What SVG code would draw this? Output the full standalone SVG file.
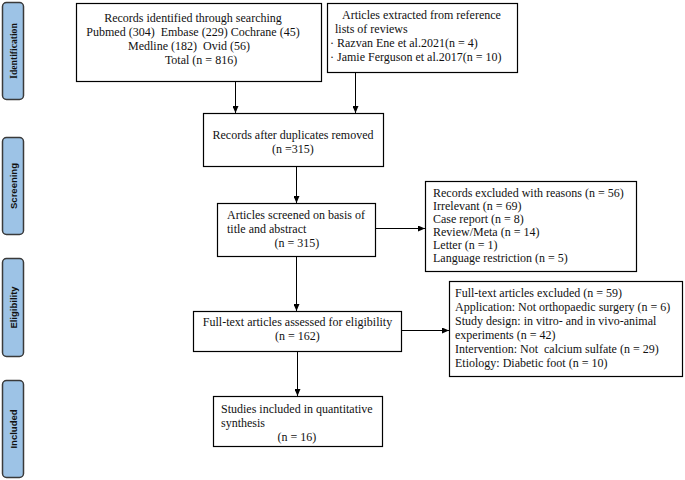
<svg xmlns="http://www.w3.org/2000/svg" width="685" height="480" viewBox="0 0 685 480">
<style>
.box{fill:#fff;stroke:#000;stroke-width:1.2}
.t{font-family:"Liberation Serif","Times New Roman",serif;font-size:12px;fill:#111}
.c{text-anchor:middle}
.stage{fill:#9dc3e6;stroke:#3a3a3a;stroke-width:1.5}
.sl{font-family:"Liberation Sans",Arial,sans-serif;font-size:9.5px;font-weight:bold;fill:#111;text-anchor:middle}
.sls{font-family:"Liberation Serif","Times New Roman",serif;font-size:9.6px;font-weight:bold;fill:#111;text-anchor:middle}
.ln{stroke:#000;stroke-width:1;fill:none;marker-end:url(#ah)}
</style>
<defs>
<marker id="ah" markerUnits="userSpaceOnUse" markerWidth="7" markerHeight="6" refX="7" refY="3" orient="auto">
<path d="M0,0 L7,3 L0,6 Z" fill="#000"/>
</marker>
</defs>

<g id="stage-identification">
<rect class="stage" x="2.5" y="2.5" width="21" height="97" rx="4"/>
<text class="sls" transform="translate(16.5,51) rotate(-90)">Identification</text>
</g>
<g id="stage-screening">
<rect class="stage" x="2.5" y="137.5" width="21" height="97" rx="4"/>
<text class="sl" transform="translate(16.5,186) rotate(-90)">Screening</text>
</g>
<g id="stage-eligibility">
<rect class="stage" x="2.5" y="258.5" width="21" height="98" rx="4"/>
<text class="sl" transform="translate(16.5,307.5) rotate(-90)">Eligibility</text>
</g>
<g id="stage-included">
<rect class="stage" x="2.5" y="380.5" width="21" height="97" rx="4"/>
<text class="sl" transform="translate(16.5,429) rotate(-90)">Included</text>
</g>

<g id="records-identified">
<rect class="box" x="76.5" y="3.5" width="245" height="78"/>
<text class="t c" x="193" y="22">Records identified through searching</text>
<text class="t c" x="193" y="36" xml:space="preserve">Pubmed (304)  Embase (229) Cochrane (45)</text>
<text class="t c" x="189" y="50" xml:space="preserve">Medline (182)  Ovid (56)</text>
<text class="t c" x="201" y="64">Total (n = 816)</text>
</g>

<g id="articles-extracted">
<rect class="box" x="327.5" y="3.5" width="190" height="69"/>
<text class="t" x="342" y="19">Articles extracted from reference</text>
<text class="t" x="335" y="33">lists of reviews</text>
<text class="t" x="330" y="47">· Razvan Ene et al.2021(n = 4)</text>
<text class="t" x="330" y="61">· Jamie Ferguson et al.2017(n = 10)</text>
</g>

<g id="duplicates-removed">
<rect class="box" x="203.5" y="113.5" width="180" height="53"/>
<text class="t c" x="293" y="139">Records after duplicates removed</text>
<text class="t c" x="293" y="153">(n =315)</text>
</g>

<g id="screened">
<rect class="box" x="217.5" y="203.5" width="158" height="53"/>
<text class="t" x="227" y="219">Articles screened on basis of</text>
<text class="t" x="227" y="233">title and abstract</text>
<text class="t c" x="297" y="247">(n = 315)</text>
</g>

<g id="excluded-reasons">
<rect class="box" x="425.5" y="181.5" width="211" height="90"/>
<text class="t" x="433" y="197">Records excluded with reasons (n = 56)</text>
<text class="t" x="433" y="210">Irrelevant (n = 69)</text>
<text class="t" x="433" y="223">Case report (n = 8)</text>
<text class="t" x="433" y="236">Review/Meta (n = 14)</text>
<text class="t" x="433" y="249">Letter (n = 1)</text>
<text class="t" x="433" y="262">Language restriction (n = 5)</text>
</g>

<g id="full-text-assessed">
<rect class="box" x="193.5" y="311.5" width="208" height="40"/>
<text class="t c" x="297.5" y="326">Full-text articles assessed for eligibility</text>
<text class="t c" x="297.5" y="340">(n = 162)</text>
</g>

<g id="full-text-excluded">
<rect class="box" x="449.5" y="281.5" width="233" height="95"/>
<text class="t" x="455" y="297">Full-text articles excluded (n = 59)</text>
<text class="t" x="455" y="311">Application: Not orthopaedic surgery (n = 6)</text>
<text class="t" x="455" y="325">Study design: in vitro- and in vivo-animal</text>
<text class="t" x="455" y="339">experiments (n = 42)</text>
<text class="t" x="455" y="353" xml:space="preserve">Intervention: Not  calcium sulfate (n = 29)</text>
<text class="t" x="455" y="367">Etiology: Diabetic foot (n = 10)</text>
</g>

<g id="included">
<rect class="box" x="213.5" y="396.5" width="169" height="50"/>
<text class="t" x="221" y="413">Studies included in quantitative</text>
<text class="t" x="221" y="427">synthesis</text>
<text class="t c" x="297" y="441">(n = 16)</text>
</g>

<g id="connectors">
<line class="ln" x1="235.5" y1="82" x2="235.5" y2="113"/>
<line class="ln" x1="355.5" y1="73" x2="355.5" y2="113"/>
<line class="ln" x1="296.5" y1="167" x2="296.5" y2="203"/>
<line class="ln" x1="376" y1="228.5" x2="425" y2="228.5"/>
<line class="ln" x1="296.5" y1="257" x2="296.5" y2="311"/>
<line class="ln" x1="402" y1="330.5" x2="449" y2="330.5"/>
<line class="ln" x1="297.5" y1="352" x2="297.5" y2="396"/>
</g>
</svg>
